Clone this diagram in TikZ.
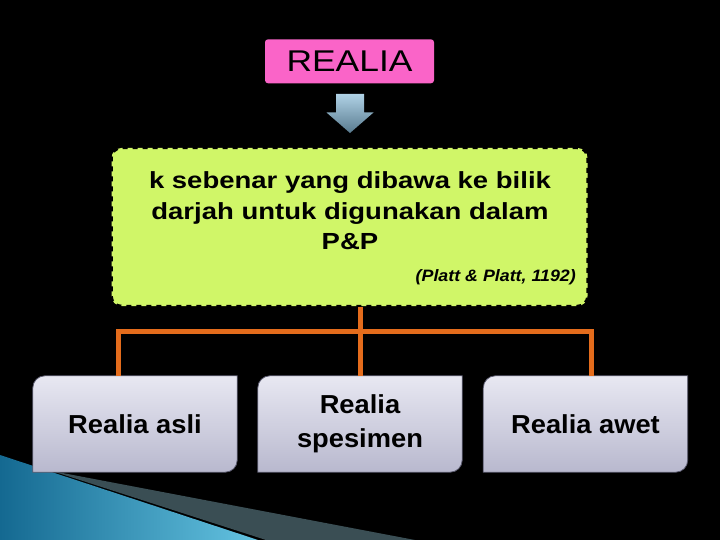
\documentclass[tikz,border=0pt]{standalone}
\usepackage{fontspec}
\setmainfont{Liberation Sans}
\newfontfamily\widefont[FakeStretch=1.18]{Liberation Sans}
\newfontfamily\citefont[FakeStretch=1.08]{Liberation Sans}
\newfontfamily\kindfont[FakeStretch=1.05]{Liberation Sans}
\usetikzlibrary{backgrounds}
\definecolor{titlepink}{RGB}{250,100,200}
\definecolor{defgreen}{RGB}{208,246,104}
\definecolor{linkorange}{RGB}{228,108,28}
\definecolor{kindtop}{RGB}{232,232,242}
\definecolor{kindbottom}{RGB}{184,184,206}
\definecolor{kindedge}{RGB}{90,90,110}
\definecolor{arrowtop}{RGB}{176,210,230}
\definecolor{arrowbottom}{RGB}{88,122,142}
\definecolor{wavedark}{RGB}{20,105,145}
\definecolor{wavelight}{RGB}{100,195,225}
\definecolor{wedgegray}{RGB}{58,78,84}
\tikzset{
    titlenode/.style = {
        rectangle,
        rounded corners=3pt,
        fill=titlepink,
        minimum width=169pt,
        minimum height=44pt,
        inner sep=0pt,
        font=\widefont\fontsize{30}{36}\selectfont
    },
    defnode/.style = {
        rectangle,
        rounded corners=10pt,
        fill=defgreen,
        draw=black,
        line width=2.5pt,
        dash pattern=on 5pt off 5pt,
        minimum width=476pt,
        minimum height=158pt
    },
    deftext/.style = {
        align=center,
        inner sep=0pt,
        font=\widefont\bfseries\fontsize{23.3}{30.5}\selectfont
    },
    citetext/.style = {
        inner sep=0pt,
        font=\citefont\bfseries\itshape\fontsize{16.5}{20}\selectfont
    },
    kindnode/.style = {
        rectangle,
        align=center,
        inner sep=0pt,
        minimum width=204pt,
        minimum height=96pt,
        font=\kindfont\bfseries\fontsize{26}{34}\selectfont
    },
    kindshape/.style = {
        top color=kindtop,
        bottom color=kindbottom,
        draw=kindedge,
        line width=0.8pt
    },
    link/.style = {
        draw=linkorange,
        line width=5pt
    }
}

\begin{document}
\begin{tikzpicture}[x=1pt, y=-1pt]
    \begin{scope}[on background layer]
        \fill[black] (0,0) rectangle (720,540);
        % corner decoration
        \fill[left color=wavedark, right color=wavelight] (0,455) -- (258,540) -- (0,540) -- cycle;
        \fill[wedgegray] (52,471) -- (415,540) -- (266,540) -- cycle;
    \end{scope}

    \node[titlenode] (title) at (349.5,61.3) {REALIA};
    \path[top color=arrowtop, bottom color=arrowbottom] (336,94) -- (364,94) -- (364,112.5)
        -- (373.5,112.5) -- (350,133) -- (326.5,112.5) -- (336,112.5) -- cycle;

    \node[defnode] (defn) at (349.5,227) {};
    \node[deftext] (deftxt) at (350,211) {k sebenar yang dibawa ke bilik\\darjah untuk digunakan dalam\\P\&P};
    \node[citetext, anchor=base east] (cite) at (576,281) {(Platt \& Platt, 1192)};

    \node[kindnode] (asli) at (135,424) {Realia asli};
    \node[kindnode] (spes) at (360,424) {Realia\\spesimen};
    \node[kindnode] (awet) at (585.5,424) {Realia awet};
    \begin{scope}[on background layer]
        \foreach \k in {asli,spes,awet}
            \path[kindshape] (\k.west) [rounded corners=12pt] -- (\k.north west) [sharp corners]
                -- (\k.north east) [rounded corners=12pt] -- (\k.south east) [sharp corners]
                -- (\k.south west) -- cycle;
    \end{scope}

    % links
    \coordinate (fork) at (359.5,331);
    \draw[link] (defn.south -| spes.north) -- (spes.north);
    \draw[link] ([xshift=-17pt]asli.north) |- (fork) -| ([xshift=5.5pt]awet.north);
\end{tikzpicture}
\end{document}
